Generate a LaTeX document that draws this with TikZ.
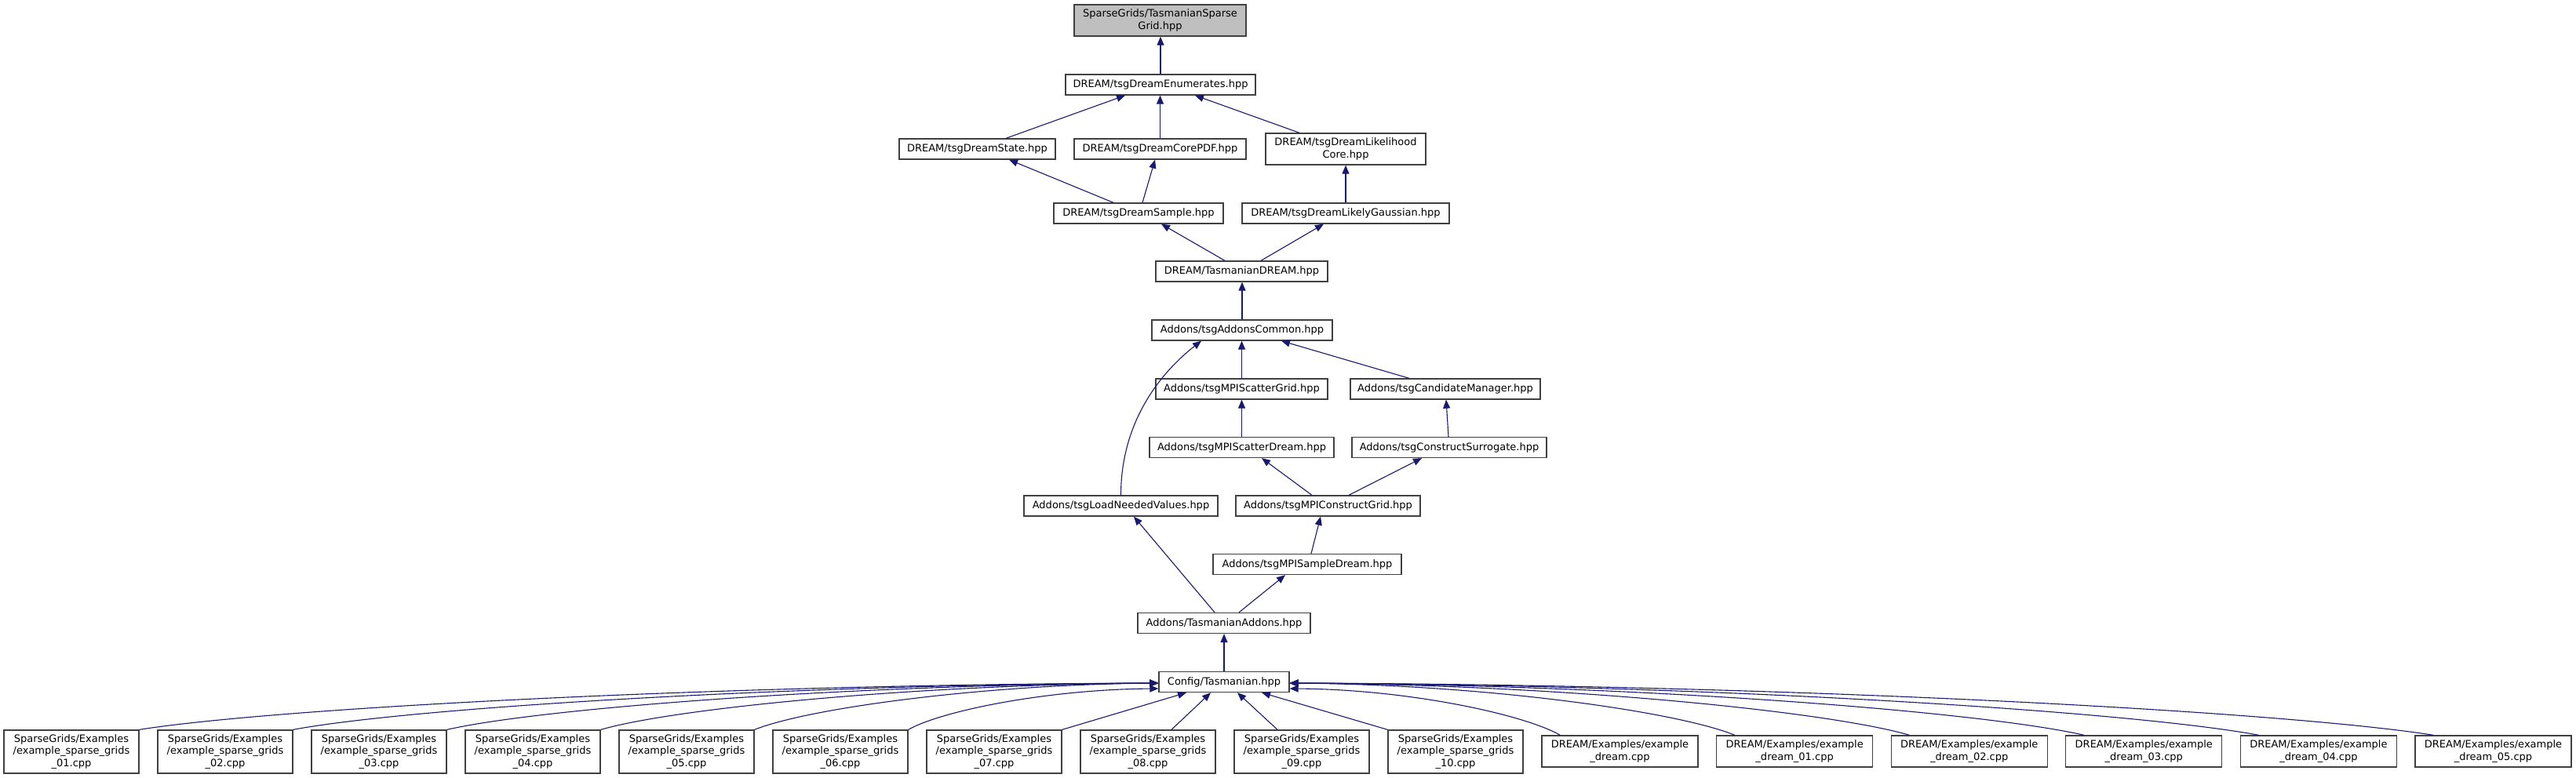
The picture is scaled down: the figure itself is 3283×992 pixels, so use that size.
\documentclass[tikz,border=0pt]{standalone}
\usepackage{fontspec}
\setmainfont{DejaVu Sans}
\usetikzlibrary{arrows.meta,calc}
\definecolor{edgeblue}{HTML}{191970}
\definecolor{boxline}{HTML}{404040}
\tikzset{
  box/.style={draw=boxline, line width=1.3pt, fill=white, inner sep=0pt, align=center,
    font=\fontsize{13}{15.2}\selectfont},
  one/.style={box, minimum height=26pt},
  dep/.style={draw=edgeblue, line width=1.1pt, -{Triangle[length=11pt,width=9pt]}},
}
\begin{document}
\begin{tikzpicture}[x=1pt,y=-1pt]
\useasboundingbox (0,0) rectangle (3283,992);
\fill[white] (0,0) rectangle (3283,992);
% upper part
\node[box, minimum width=219pt, minimum height=40pt, fill=black!25] (sg) at (1478.5,26) {SparseGrids/TasmanianSparse\\Grid.hpp};
\node[one, minimum width=242pt] (enum) at (1479,108) {DREAM/tsgDreamEnumerates.hpp};
\node[one, minimum width=199pt] (state) at (1245.5,190) {DREAM/tsgDreamState.hpp};
\node[one, minimum width=219pt] (corepdf) at (1478.5,190) {DREAM/tsgDreamCorePDF.hpp};
\node[box, minimum width=204pt, minimum height=40pt] (likcore) at (1715,190) {DREAM/tsgDreamLikelihood\\Core.hpp};
\node[one, minimum width=216pt] (sample) at (1451,272) {DREAM/tsgDreamSample.hpp};
\node[one, minimum width=264pt] (likgauss) at (1715,272) {DREAM/tsgDreamLikelyGaussian.hpp};
\node[one, minimum width=219pt] (tdream) at (1582.5,346) {DREAM/TasmanianDREAM.hpp};
\node[one, minimum width=230pt] (common) at (1583,421) {Addons/tsgAddonsCommon.hpp};
\node[one, minimum width=219pt] (scgrid) at (1582.5,496) {Addons/tsgMPIScatterGrid.hpp};
\node[one, minimum width=242pt] (candman) at (1842,496) {Addons/tsgCandidateManager.hpp};
\node[one, minimum width=235pt] (scdream) at (1582.5,570.5) {Addons/tsgMPIScatterDream.hpp};
\node[one, minimum width=248pt] (consur) at (1847,570.5) {Addons/tsgConstructSurrogate.hpp};
\node[one, minimum width=247pt] (loadnv) at (1428.5,645) {Addons/tsgLoadNeededValues.hpp};
\node[one, minimum width=235pt] (mpicg) at (1692.5,645) {Addons/tsgMPIConstructGrid.hpp};
\node[one, minimum width=240pt] (mpisd) at (1666,719.5) {Addons/tsgMPISampleDream.hpp};
\node[one, minimum width=220pt] (taddons) at (1560,794.5) {Addons/TasmanianAddons.hpp};
\node[one, minimum width=166pt] (cfg) at (1560,869.5) {Config/Tasmanian.hpp};
% bottom row
\tikzset{exbox/.style={box, minimum width=172pt, minimum height=55pt},
         drbox/.style={box, minimum width=199pt, minimum height=40pt}}
\node[exbox] (ex1) at (91,958.5) {SparseGrids/Examples\\/example\_sparse\_grids\\\_01.cpp};
\node[exbox] (ex2) at (287,958.5) {SparseGrids/Examples\\/example\_sparse\_grids\\\_02.cpp};
\node[exbox] (ex3) at (483,958.5) {SparseGrids/Examples\\/example\_sparse\_grids\\\_03.cpp};
\node[exbox] (ex4) at (679,958.5) {SparseGrids/Examples\\/example\_sparse\_grids\\\_04.cpp};
\node[exbox] (ex5) at (875,958.5) {SparseGrids/Examples\\/example\_sparse\_grids\\\_05.cpp};
\node[exbox] (ex6) at (1071,958.5) {SparseGrids/Examples\\/example\_sparse\_grids\\\_06.cpp};
\node[exbox] (ex7) at (1267,958.5) {SparseGrids/Examples\\/example\_sparse\_grids\\\_07.cpp};
\node[exbox] (ex8) at (1463,958.5) {SparseGrids/Examples\\/example\_sparse\_grids\\\_08.cpp};
\node[exbox] (ex9) at (1659,958.5) {SparseGrids/Examples\\/example\_sparse\_grids\\\_09.cpp};
\node[exbox] (ex10) at (1855,958.5) {SparseGrids/Examples\\/example\_sparse\_grids\\\_10.cpp};
\node[drbox] (dr0) at (2064.5,958) {DREAM/Examples/example\\\_dream.cpp};
\node[drbox] (dr1) at (2287.1,958) {DREAM/Examples/example\\\_dream\_01.cpp};
\node[drbox] (dr2) at (2509.7,958) {DREAM/Examples/example\\\_dream\_02.cpp};
\node[drbox] (dr3) at (2732.3,958) {DREAM/Examples/example\\\_dream\_03.cpp};
\node[drbox] (dr4) at (2954.9,958) {DREAM/Examples/example\\\_dream\_04.cpp};
\node[drbox] (dr5) at (3177.5,958) {DREAM/Examples/example\\\_dream\_05.cpp};
% upper edges
\draw[dep] (enum.north) -- (enum.north |- sg.south);
\draw[dep] ([xshift=36.5pt]state.north) -- ([xshift=-45pt]enum.south);
\draw[dep] (corepdf.north) -- (corepdf.north |- enum.south);
\draw[dep] ([xshift=-59pt]likcore.north) -- ([xshift=44pt]enum.south);
\draw[dep] ([xshift=-32pt]sample.north) -- ([xshift=40.5pt]state.south);
\draw[dep] ([xshift=5pt]sample.north) -- ([xshift=-6.5pt]corepdf.south);
\draw[dep] (likgauss.north) -- (likgauss.north |- likcore.south);
\draw[dep] ([xshift=-21.5pt]tdream.north) -- ([xshift=29pt]sample.south);
\draw[dep] ([xshift=24.5pt]tdream.north) -- ([xshift=-28pt]likgauss.south);
\draw[dep] (common.north) -- (common.north |- tdream.south);
\draw[dep] (scgrid.north) -- (scgrid.north |- common.south);
\draw[dep] ([xshift=-46pt]candman.north) -- ([xshift=50pt]common.south);
\draw[dep] (loadnv.north) .. controls +(0,-100) and +(-45,35) .. ([xshift=-52pt]common.south);
\draw[dep] (scdream.north) -- (scdream.north |- scgrid.south);
\draw[dep] ([xshift=-1pt]consur.north) -- ([xshift=1pt]candman.south);
\draw[dep] ([xshift=-20.5pt]mpicg.north) -- ([xshift=25.5pt]scdream.south);
\draw[dep] ([xshift=26.5pt]mpicg.north) -- ([xshift=-35pt]consur.south);
\draw[dep] ([xshift=-12pt]taddons.north) -- ([xshift=16.5pt]loadnv.south);
\draw[dep] ([xshift=19pt]taddons.north) -- ([xshift=-28pt]mpisd.south);
\draw[dep] ([xshift=5pt]mpisd.north) -- ([xshift=-9.5pt]mpicg.south);
\draw[dep] (cfg.north) -- (cfg.north |- taddons.south);
% bottom edges
\draw[dep] (ex1.north east) .. controls +(169,-27) and +(-572,2) .. ([yshift=-1.5pt]cfg.west);
\draw[dep] (ex2.north east) .. controls +(144,-27) and +(-486,2) .. ([yshift=-1.5pt]cfg.west);
\draw[dep] (ex3.north east) .. controls +(118,-27) and +(-400,2) .. ([yshift=-1.5pt]cfg.west);
\draw[dep] (ex4.north east) .. controls +(93,-27) and +(-313,2) .. ([yshift=-1.5pt]cfg.west);
\draw[dep] (ex5.north east) .. controls +(67,-27) and +(-227,2) .. ([yshift=-1.5pt]cfg.west);
\draw[dep] (ex6.north east) .. controls +(42,-24) and +(-141,1) .. ([yshift=-8.5pt]cfg.west);
\draw[dep] (ex7.north east) -- ([xshift=-48pt]cfg.south);
\draw[dep] ([xshift=30pt]ex8.north) -- ([xshift=-17pt]cfg.south);
\draw[dep] ([xshift=-31pt]ex9.north) -- ([xshift=17pt]cfg.south);
\draw[dep] (ex10.north west) -- ([xshift=48pt]cfg.south);
\draw[dep] ([xshift=24pt]dr0.north west) .. controls +(-45,-26) and +(152,1) .. ([yshift=-8.5pt]cfg.east);
\draw[dep] ([xshift=24pt]dr1.north west) .. controls +(-74,-30) and +(251,2) .. ([yshift=-1.5pt]cfg.east);
\draw[dep] ([xshift=24pt]dr2.north west) .. controls +(-103,-30) and +(350,2) .. ([yshift=-1.5pt]cfg.east);
\draw[dep] ([xshift=24pt]dr3.north west) .. controls +(-132,-30) and +(448,2) .. ([yshift=-1.5pt]cfg.east);
\draw[dep] ([xshift=24pt]dr4.north west) .. controls +(-161,-30) and +(546,2) .. ([yshift=-1.5pt]cfg.east);
\draw[dep] ([xshift=24pt]dr5.north west) .. controls +(-190,-30) and +(645,2) .. ([yshift=-1.5pt]cfg.east);
\end{tikzpicture}
\end{document}
